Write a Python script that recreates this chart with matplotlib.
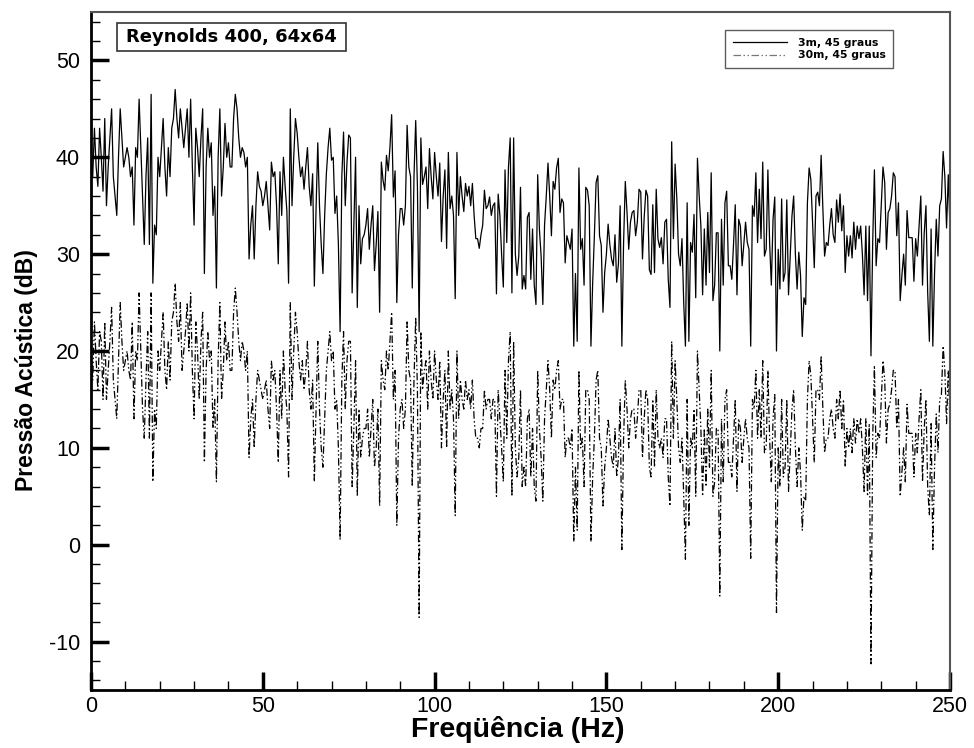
import numpy as np
import matplotlib
matplotlib.use("Agg")
import matplotlib.pyplot as plt
from matplotlib.ticker import MultipleLocator
from matplotlib.patches import Rectangle
from matplotlib import font_manager

plt.rcParams["axes.unicode_minus"] = False

# Frequency axis (Hz), 0.5 Hz resolution
freq = np.arange(0, 250.01, 0.5)

# Sound pressure level at 3 m, 45 degrees (dB)
spl_3m = [
    40, 38, 43, 39, 37, 43, 40, 36.5, 44, 35, 39, 42, 45, 38, 36, 34, 40, 45, 42, 39,
    40, 41, 40, 38, 39, 33, 41, 40, 46, 41, 36, 31, 38, 42, 31, 46.5, 27, 33, 32, 40,
    38, 41, 44, 39, 36, 41, 38, 43, 44, 47, 44, 42, 45, 43, 41, 43, 45, 40, 46, 39,
    33, 43, 41, 38, 42, 45, 28, 39, 43, 40, 41.5, 34, 37, 26.5, 40, 45, 36, 39, 43.5, 40,
    41.5, 39, 39, 44, 46.5, 45, 42, 40, 41, 40.5, 39, 40, 29.5, 33, 35, 29.5, 35, 38.5, 37, 36.5,
    35, 36, 37.5, 35, 32.5, 39.5, 38, 38.5, 35, 29, 38.5, 34, 40, 37, 34.5, 27, 45, 35, 40, 44,
    42.5, 40, 38, 39, 36.7, 39, 41, 37, 35, 38.3, 26.7, 34.7, 41.5, 35, 31, 28, 34, 38.3, 41, 43,
    39.7, 40, 34.2, 36, 31, 22, 38, 42.6, 35, 39.5, 42.3, 42, 26, 33, 40, 24.5, 35, 29, 31.6, 32,
    33, 34.7, 30.5, 33, 35, 28.3, 31, 34.4, 24, 39.5, 37.6, 36.6, 40.2, 38.6, 41, 44.4, 35.9, 38.6, 25, 32,
    34.7, 34.7, 33, 35, 43.3, 39, 38, 26.5, 38, 43.8, 37, 22, 42, 37.2, 38, 39, 34.7, 40.9, 38, 35.7,
    40.5, 38, 36, 39.4, 31.3, 36, 38.7, 30.6, 40.5, 34.7, 36, 34, 25.4, 40.5, 34, 38, 36, 34.4, 37.3, 36,
    37, 35, 37.3, 34, 31.6, 31.6, 30.6, 32, 33, 36.6, 34.7, 35, 35.9, 34, 35, 35.3, 25.9, 36.2, 34, 30,
    26.6, 38.7, 31.2, 39, 42, 26, 42, 30, 27.8, 29.8, 36.9, 26.4, 27.8, 26.4, 33.8, 34.3, 27.4, 32.6, 26.8, 24.8,
    38.2, 32.6, 29.8, 24.8, 33, 36, 39.4, 36, 31.9, 37.5, 36.7, 38.9, 39.9, 34.3, 35.7, 35.3, 29.1, 31.9, 31.2, 30.5,
    32.6, 20.5, 28, 21, 38.9, 30.5, 31.6, 26.8, 36.9, 36.6, 35, 20.5, 27, 31.9, 37.4, 38.1, 31.9, 30.9, 24, 28.1,
    30, 33.1, 31, 29.5, 28.8, 32, 27.1, 29, 35, 20.5, 31.2, 37.5, 34.3, 30.5, 33.3, 34.3, 34.5, 31.9, 33.3, 36.7,
    36.4, 29.5, 33.8, 36.6, 36, 28.4, 27.9, 35.1, 28.1, 36.7, 31.6, 30.7, 31.7, 29, 33.3, 33.6, 27.4, 24.5, 41.6, 31.6,
    39.3, 35.7, 30, 28.8, 31.6, 25, 20.5, 35.3, 21, 31.2, 30.2, 34.1, 25.5, 39.9, 36, 32.9, 25.8, 32.6, 26.8, 34.3,
    28.1, 38.4, 25.2, 26.8, 32.2, 32.2, 20, 33.6, 26.8, 35.3, 36.5, 28.8, 28.8, 27.4, 31, 35.1, 25.8, 33.6, 32.9, 28.8,
    31, 33.3, 31.2, 30.5, 20.5, 35, 33.9, 38.4, 31.2, 36.7, 31.6, 39.5, 29.8, 30.5, 38.7, 31.2, 26.8, 33.6, 35.9, 20,
    30.5, 26.4, 35.7, 27.2, 28.1, 35.6, 25.8, 29.8, 33.9, 36, 30, 26.4, 30.2, 27.8, 21.5, 25.5, 24.8, 35.3, 38.9, 37.7,
    33.3, 28.6, 36, 36.4, 35, 40.2, 34.7, 29.8, 31.2, 30.9, 33, 34.7, 32, 31.2, 35.6, 33.3, 36.2, 32.4, 35, 28.1,
    31.9, 29.8, 31.9, 29.6, 33.3, 30.5, 32.9, 31.6, 32.9, 30, 25.8, 32.9, 25.2, 32.9, 19.5, 31.2, 38.7, 28.8, 31.6, 31.2,
    35, 39, 37.4, 30.5, 34.3, 34.7, 36, 38.4, 38, 31.9, 35.3, 25.2, 27.8, 30, 26.8, 34.5, 31.7, 31.7, 31.7, 27.2,
    31.6, 29.8, 33, 36, 26.8, 32.2, 35, 26.1, 21, 32.6, 20.5, 28, 33.6, 29.8, 35, 35.7, 40.6, 38, 32.7, 38.2,
    32.6,
]

# Sound pressure level at 30 m, 45 degrees (dB)
spl_30m = [
    20, 17, 23, 19, 16, 22, 21, 15, 23, 15, 18, 21, 24.5, 17, 15, 13, 19, 25, 21, 18,
    19, 20, 18, 17, 23, 13, 20, 19, 26, 20, 14, 11, 17, 22, 11, 26, 6.5, 14, 12, 20,
    18, 21, 24, 18, 16, 21, 17, 23, 24, 27, 23, 21, 25, 18, 20, 22, 25, 20, 26, 18,
    13, 23, 20, 15, 21, 24, 8.5, 18, 22, 19, 20, 12, 15, 6.5, 19, 25, 15, 18, 23, 19,
    21, 18, 18, 24, 26.5, 24, 21, 19, 21, 20, 18, 20, 9, 13, 15, 10, 15, 18, 17, 16,
    15, 16, 17, 14, 12, 19, 17, 18, 14, 8.5, 18, 13, 20, 16, 14, 7, 25, 15, 20, 24,
    22, 19, 17, 19, 16, 18, 21, 16, 14, 17, 6.5, 14, 21, 14, 10, 8, 13, 18, 20, 22,
    19, 20, 14, 15, 10, 0.5, 17, 22, 14, 19, 21, 21, 6, 12, 19, 5, 14, 9, 11, 12,
    12, 14, 9, 12, 15, 8, 10, 14, 4, 19, 17, 16, 20, 18, 21, 24, 15, 18, 2, 11,
    14, 15, 12, 14, 23, 18, 17, 6, 17, 23.5, 16, -7.5, 22, 16, 18, 19, 14, 20, 17, 15,
    20, 17, 15, 19, 10, 15, 18, 10, 20, 14, 16, 13, 3, 20, 13, 17, 15, 14, 17, 15,
    16, 14, 17, 13, 11, 11, 10, 12, 12, 16, 14, 15, 15, 13, 15, 15, 5, 16, 13, 10,
    6.5, 18, 11, 19, 22, 5, 21, 10, 7, 9, 16, 6, 8, 6, 13, 14, 7, 12, 6, 4.5,
    18, 12, 9, 4.5, 13, 16, 19, 16, 11, 17, 16, 18, 19, 14, 15, 15, 9, 11, 11, 10,
    12, 0.3, 8, 1.5, 18, 10, 11, 6, 16, 16, 15, 0.3, 7, 11, 17, 18, 11, 10, 4, 8,
    10, 13, 11, 9, 8, 12, 7, 9, 15, -0.5, 11, 17, 14, 10, 13, 14, 14, 11, 13, 16,
    16, 9, 13, 16, 15, 8, 7, 15, 8, 16, 11, 10, 11, 9, 13, 13, 7, 4, 21, 11,
    19, 15, 10, 8.5, 11, 5, -1.5, 15, 2, 11, 10, 14, 5, 20, 16, 12, 5, 12, 6, 14,
    8, 18, 5, 6.5, 12, 12, -5.3, 13, 6.5, 15, 16, 8.5, 8.5, 7, 11, 15, 5.5, 13, 12, 8.5,
    11, 13, 11, 10, -1.4, 15, 14, 18, 11, 16, 11, 19, 9.5, 10, 18, 11, 6.5, 13, 15.5, -7,
    10, 6, 15, 7, 8, 15, 5.5, 9.5, 14, 16, 10, 6, 10, 7.5, 1.5, 5, 4.5, 15, 19, 17.5,
    13, 8.5, 16, 16, 15, 19.5, 14, 9.5, 11, 11, 13, 14, 12, 11, 15, 13, 16, 12, 15, 8,
    12, 10, 12, 9.5, 13, 10.5, 13, 11.5, 13, 10, 5.5, 13, 5, 12.5, -12.3, 11, 18.5, 9, 11.5, 11,
    15, 19, 17, 10.5, 14, 14.5, 16, 18, 18, 12, 15, 5, 7.5, 10, 6.5, 14.5, 11.5, 11.5, 11.5, 7,
    11.5, 9.5, 13, 16, 6.5, 12, 15, 6, 3, 12.5, -0.5, 8, 13.5, 9.5, 15, 15.5, 20.5, 18, 12.5, 18,
    12.5,
]

series_labels = ["3m, 45 graus", "30m, 45 graus"]
x_ticks = [0, 50, 100, 150, 200, 250]
y_ticks = [-10, 0, 10, 20, 30, 40, 50]
title_text = "Reynolds 400, 64x64"
x_label = "Freqüência (Hz)"
y_label = "Pressão Acústica (dB)"


def first_font(names):
    avail = {f.name for f in font_manager.fontManager.ttflist}
    for n in names:
        if n in avail:
            return n
    return "DejaVu Sans"


sans = first_font(["Liberation Sans Narrow", "Liberation Sans", "Arial"])
sans_b = first_font(["Liberation Sans", "Arial"])

fig = plt.figure(figsize=(9.74, 7.48), dpi=100)
ax = fig.add_axes([91 / 974, 1 - 690 / 748, 859 / 974, 678 / 748])

ax.plot(freq, spl_3m, color="black", lw=0.9, label=series_labels[0])
ax.plot(freq, spl_30m, color="black", lw=0.9,
        dashes=[6, 2, 1.2, 2, 1.2, 2], label=series_labels[1])

ax.set_xlim(0, 250)
ax.set_ylim(-15, 55)
ax.set_xticks(x_ticks)
ax.set_yticks(y_ticks)
ax.xaxis.set_minor_locator(MultipleLocator(10))
ax.yaxis.set_minor_locator(MultipleLocator(2))
ax.tick_params(which="both", direction="in", top=False, right=False)
ax.tick_params(which="major", length=13, width=2.5)
ax.tick_params(which="minor", length=6.5, width=1)
ax.tick_params(axis="y", which="major", pad=8)
ax.tick_params(axis="x", which="major", pad=4)
for lab in ax.get_xticklabels() + ax.get_yticklabels():
    lab.set_fontfamily(sans)
    lab.set_fontsize(15.5)

for side in ("left", "bottom"):
    ax.spines[side].set_linewidth(2)
    ax.spines[side].set_color("black")
for side in ("top", "right"):
    ax.spines[side].set_linewidth(1.5)
    ax.spines[side].set_color("#555555")

ax.set_xlabel(x_label, fontfamily=sans_b, fontweight="bold", fontsize=20.5)
ax.xaxis.set_label_coords(0.497, -(716 - 690) / 678)
ax.set_ylabel(y_label, fontfamily=sans_b, fontweight="bold", fontsize=16.5)
ax.yaxis.set_label_coords(-0.062, 1 - (370 - 12) / 678)

# Case label box
ax.add_patch(Rectangle((26 / 859, 1 - 39 / 678), 229 / 859, 28 / 678,
                       transform=ax.transAxes, fill=False, lw=1.2,
                       edgecolor="#333333", zorder=5))
ax.text((26 + 229 / 2) / 859, 1 - 25 / 678, title_text, transform=ax.transAxes,
        ha="center", va="center", fontfamily="DejaVu Sans",
        fontweight="bold", fontsize=13, zorder=6)

leg = ax.legend(loc="upper right", bbox_to_anchor=(802 / 859, 1 - 18 / 678),
                frameon=True, fancybox=False, edgecolor="#333333",
                prop={"family": "DejaVu Sans", "weight": "bold", "size": 7.8},
                handlelength=5.0, handletextpad=1.0, borderpad=0.7,
                labelspacing=0.25, borderaxespad=0)
leg.get_frame().set_linewidth(1)
leg.legend_handles[1].set_color("#777777")

fig.savefig("out.png", dpi=100)
